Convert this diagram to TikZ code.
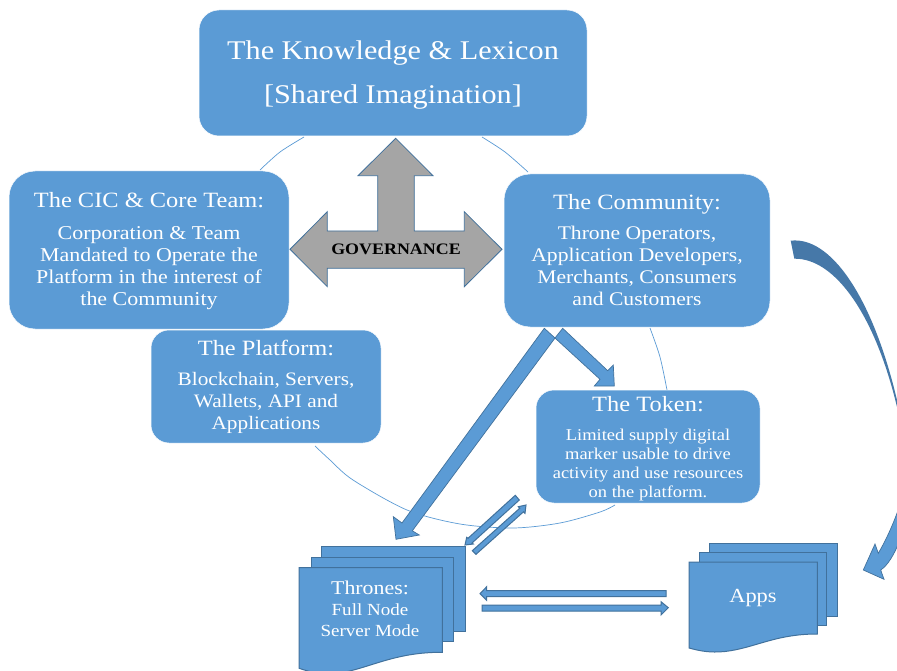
\documentclass[tikz,border=0pt]{standalone}
\usepackage{fontspec}
\setmainfont[FakeStretch=1.12]{Liberation Serif}
\definecolor{boxblue}{HTML}{5B9BD5}
\definecolor{edgeblue}{HTML}{41719C}
\definecolor{darkcurve}{HTML}{4678A8}
\definecolor{govgrey}{HTML}{A5A5A5}
\newcommand{\fs}[2]{\fontsize{#1}{#2}\selectfont}
\newcommand{\hd}{\fs{21.8}{27}}
\tikzset{
  panel/.style={draw=white,line width=0.5pt,fill=boxblue,text=white,align=center,inner sep=0pt,outer sep=0pt},
  ring/.style={draw=boxblue,line width=0.7pt},
  sheet/.style={draw=edgeblue,line width=1pt,fill=boxblue},
  blockarrow/.style={draw=edgeblue,line width=0.7pt,fill=boxblue,line join=miter},
  thinarrow/.style={draw=edgeblue,line width=1pt,fill=boxblue},
  sheettext/.style={text=white,align=center,inner sep=0pt},
}
\begin{document}
\begin{tikzpicture}[x=1pt,y=-1pt]
\clip (0,0) rectangle (897,671);
\fill[white] (0,0) rectangle (897,671);
% ring fragments
\draw[ring] plot[smooth] coordinates {(260,170) (280,152) (304,137)};
\draw[ring] plot[smooth] coordinates {(482,137) (505,152) (528,172)};
\draw[ring] plot[smooth] coordinates {(650,328) (660,357) (667,390)};
\draw[ring] plot[smooth] coordinates {(315,446) (330,460) (353,480) (407,510) (460,524) (513,528) (560,523) (600,512) (615,505)};
% panels
\node[panel,rounded corners=20pt,minimum width=388pt,minimum height=126pt,font=\fs{27}{44}] (know) at (393,73)
  {\rule{0pt}{23pt}The Knowledge \& Lexicon\\{}[Shared Imagination]};
\node[panel,rounded corners=26pt,minimum width=280pt,minimum height=158pt,font=\fs{19.6}{22}] (cic) at (149,250)
  {\hd\rule{0pt}{18pt}The CIC \& Core Team:\\[10pt]Corporation \& Team\\Mandated to Operate the\\Platform in the interest of\\the Community};
\node[panel,rounded corners=26pt,minimum width=266pt,minimum height=153pt,font=\fs{19.3}{22}] (comm) at (637,250.5)
  {\hd The Community:\\[8pt]Throne Operators,\\Application Developers,\\Merchants, Consumers\\and Customers};
\node[panel,rounded corners=18pt,minimum width=230pt,minimum height=113pt,font=\fs{19}{22}] (plat) at (266,386.5)
  {\hd The Platform:\\[8pt]Blockchain, Servers,\\Wallets, API and\\Applications};
\node[panel,rounded corners=18pt,minimum width=224pt,minimum height=113pt,font=\fs{16.5}{19}] (tok) at (648,446.5)
  {\hd\rule{0pt}{20pt}The Token:\\[10pt]Limited supply digital\\marker usable to drive\\activity and use resources\\on the platform.};
% governance arrow
\draw[draw=edgeblue,line width=0.8pt,fill=govgrey]
  (395.7,138.3) -- (433,175.7) -- (414.3,175.7) -- (414.3,231) -- (464.3,231) -- (464.3,211.7)
  -- (502,249.3) -- (464.3,286.7) -- (464.3,268.3) -- (327.3,268.3) -- (327.3,286.7)
  -- (290,249.3) -- (327.3,211.7) -- (327.3,231) -- (377.7,231) -- (377.7,175.7) -- (358,175.7) -- cycle;
\node[inner sep=0pt,text=black,font=\fs{16}{18}\bfseries] (gov) at (396,249.5) {GOVERNANCE};
% block arrows from the community
\draw[blockarrow] (544.3,328.3) -- (555,338) -- (412.3,530.8) -- (419.3,535) -- (396,539.3) -- (393.3,516.7) -- (402,523) -- cycle;
\draw[blockarrow] (562.7,328.3) -- (555,338) -- (600,379.3) -- (594.3,386) -- (614.3,386) -- (613.3,365) -- (607.7,370.7) -- cycle;
% thrones sheets
\draw[sheet] (321.7,546) rectangle (465,631.7);
\draw[sheet] (311,557) rectangle (453.3,641.7);
\draw[sheet] (299,567.7) -- (442.3,567.7) -- (442.3,652.3) .. controls (395,652) and (370,668) .. (340,673) .. controls (325,676) and (310,672) .. (299,668.3) -- cycle;
\node[sheettext,font=\fs{17}{21}] (thrtext) at (370,609) {\fs{19.5}{23}Thrones:\\Full Node\\Server Mode};
% apps sheets
\draw[sheet] (709,543.3) rectangle (837.7,616);
\draw[sheet] (699.3,552.7) rectangle (826.7,625.3);
\draw[sheet] (689,562) -- (817.3,562) -- (817.3,634) .. controls (775,634) and (755,648) .. (725,651.5) .. controls (710,653) and (700,651) .. (689,648) -- cycle;
\node[sheettext,font=\fs{20}{22}] (apps) at (753,598) {Apps};
% thin arrows
\draw[thinarrow] (515.3,495.3) -- (519.3,500) -- (472,543) -- (473.3,544) -- (465,545) -- (466.7,537.3) -- (468,538.3) -- cycle;
\draw[thinarrow] (472.3,550.7) -- (476,554.3) -- (523.5,511.8) -- (525,513.3) -- (526,505) -- (518.3,506.7) -- (519.8,508.2) -- cycle;
\draw[thinarrow] (666,590.7) -- (486.7,590.7) -- (486.7,586.7) -- (480,593.7) -- (486.7,600.3) -- (486.7,596.7) -- (666,596.7) -- cycle;
\draw[thinarrow] (482,605) -- (661,605) -- (661,601.7) -- (668.3,607.7) -- (661,615) -- (661,611) -- (482,611) -- cycle;
% curved arrow
\fill[darkcurve] (790.7,240.7) .. controls (830,236) and (872,295) .. (897,400)
  -- (897,407) .. controls (875,315) and (835,258) .. (794.3,258.7) -- cycle;
\draw[blockarrow] (900,505) .. controls (893,525) and (886,540) .. (878.3,553.3) -- (875,544) -- (863.3,570) -- (884,579.3) -- (880.7,570) .. controls (888,565) and (894,555) .. (900,540) -- cycle;
\end{tikzpicture}
\end{document}
